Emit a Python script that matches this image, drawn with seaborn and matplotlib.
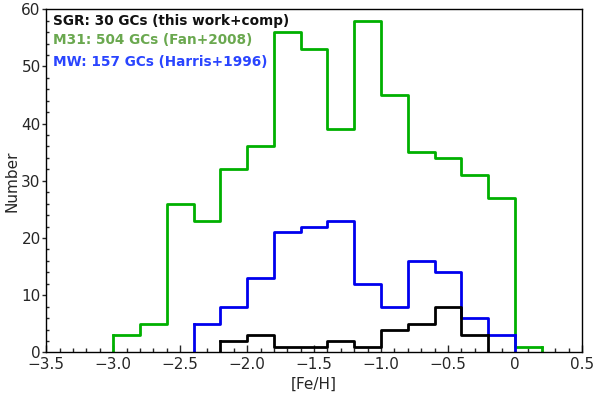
import numpy as np
import pandas as pd
import matplotlib
matplotlib.use("Agg")
import matplotlib.pyplot as plt
import seaborn as sns
from matplotlib.ticker import MultipleLocator

# Bin edges width 0.2
m31_left = [-3.0, -2.8, -2.6, -2.4, -2.2, -2.0, -1.8, -1.6, -1.4, -1.2, -1.0, -0.8, -0.6, -0.4, -0.2, 0.0]
m31_counts = [3, 5, 26, 23, 32, 36, 56, 53, 39, 58, 45, 35, 34, 31, 27, 1]
mw_left = [-2.4, -2.2, -2.0, -1.8, -1.6, -1.4, -1.2, -1.0, -0.8, -0.6, -0.4, -0.2]
mw_counts = [5, 8, 13, 21, 22, 23, 12, 8, 16, 14, 6, 3]
sgr_left = [-2.2, -2.0, -1.8, -1.6, -1.4, -1.2, -1.0, -0.8, -0.6, -0.4]
sgr_counts = [2, 3, 1, 1, 2, 1, 4, 5, 8, 3]

labels = ["SGR: 30 GCs (this work+comp)", "M31: 504 GCs (Fan+2008)", "MW: 157 GCs (Harris+1996)"]
text_colors = ["#111111", "#6aa84f", "#2a45ff"]
width = 0.2

sns.set_theme(style="white")
plt.rcParams['font.family'] = ['DejaVu Sans']

fig = plt.figure(figsize=(6, 4), dpi=100)
ax = fig.add_axes([0.077, 0.119, 0.893, 0.858])

def draw(left, counts, color):
    left = np.array(left, dtype=float)
    edges = [float(e) for e in np.round(np.append(left, left[-1] + width), 3)]
    df = pd.DataFrame({"x": left + width / 2, "w": np.array(counts, dtype=float)})
    sns.histplot(data=df, x="x", weights="w", bins=edges, element="step", fill=False,
                 color=color, linewidth=2, ax=ax)
    # closing vertical edges of the outline down to zero
    ax.vlines([edges[0], edges[-1]], 0, [counts[0], counts[-1]], color=color,
              linewidth=2, capstyle='projecting')

draw(m31_left, m31_counts, "#00b000")
draw(mw_left, mw_counts, "#0000ee")
draw(sgr_left, sgr_counts, "#000000")

ax.set_xlim(-3.5, 0.5)
ax.set_ylim(0, 60)
ax.xaxis.set_minor_locator(MultipleLocator(0.1))
ax.yaxis.set_major_locator(MultipleLocator(10))
ax.yaxis.set_minor_locator(MultipleLocator(2))
ax.set_xticks([-3.5, -3.0, -2.5, -2.0, -1.5, -1.0, -0.5, 0, 0.5])
ax.set_xticklabels(["\u22123.5", "\u22123.0", "\u22122.5", "\u22122.0", "\u22121.5", "\u22121.0", "\u22120.5", "0", "0.5"])
ax.tick_params(axis='x', which='major', direction='in', length=5, width=1, labelsize=11, pad=3, bottom=True)
ax.tick_params(axis='x', which='minor', direction='in', length=3, width=1, bottom=True)
ax.tick_params(axis='y', which='major', direction='out', length=3, width=1, labelsize=11, pad=1, left=True)
ax.tick_params(axis='y', which='minor', direction='in', length=2, width=1, left=True)
for s in ax.spines.values():
    s.set_color("black")
    s.set_linewidth(1.0)

ax.set_xlabel("[Fe/H]", fontsize=11, labelpad=4)
ax.set_ylabel("Number", fontsize=11)
ax.yaxis.set_label_coords(-0.049, 0.5)

ys = [0.985, 0.93, 0.866]
for lab, c, y in zip(labels, text_colors, ys):
    ax.text(0.013, y, lab, color=c, transform=ax.transAxes, fontsize=9.8,
            fontweight='bold', va='top', ha='left')

fig.savefig("out.png", dpi=100)
